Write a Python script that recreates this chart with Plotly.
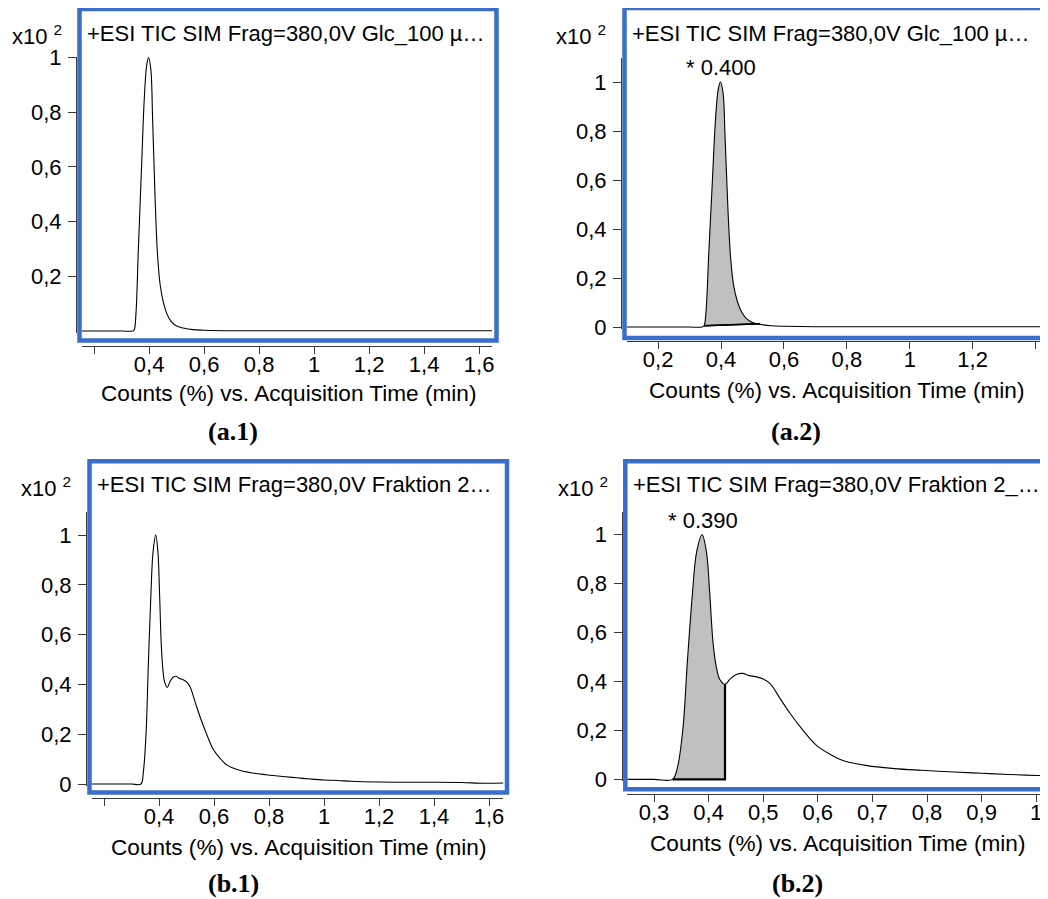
import plotly.graph_objects as go

W, H = 1048, 899

# ---------------- data ----------------
glc_time = [0.10, 0.20, 0.30, 0.340, 0.346, 0.352, 0.361, 0.373, 0.382, 0.391,
            0.398, 0.406, 0.413, 0.422, 0.430, 0.440, 0.453, 0.466, 0.480,
            0.500, 0.524, 0.560, 0.600, 0.700, 0.900, 1.200, 1.500, 1.660]
glc_counts = [0.0, 0.0, 0.0, 0.0, 0.005, 0.06, 0.30, 0.61, 0.84, 0.97,
              1.0, 0.96, 0.77, 0.48, 0.29, 0.17, 0.10, 0.06, 0.035,
              0.018, 0.011, 0.005, 0.003, 0.001, 0.001, 0.001, 0.001, 0.001]

frak_time = [0.15, 0.25, 0.30, 0.334, 0.343, 0.353, 0.361, 0.370, 0.378, 0.388,
             0.396, 0.402, 0.408, 0.414, 0.420, 0.430, 0.440, 0.452, 0.462,
             0.474, 0.486, 0.500, 0.513, 0.531, 0.549, 0.573, 0.597, 0.622,
             0.646, 0.690, 0.740, 0.790, 0.850, 0.900, 0.950, 1.000, 1.050,
             1.100, 1.200, 1.300, 1.400, 1.500, 1.580, 1.655]
frak_counts = [0.0, 0.0, 0.0, 0.0, 0.05, 0.21, 0.48, 0.75, 0.93, 1.0,
               0.93, 0.76, 0.56, 0.46, 0.41, 0.388, 0.412, 0.43, 0.433,
               0.424, 0.42, 0.41, 0.39, 0.33, 0.27, 0.20, 0.14, 0.103,
               0.077, 0.056, 0.044, 0.037, 0.030, 0.025, 0.020, 0.016, 0.014,
               0.011, 0.008, 0.007, 0.007, 0.006, 0.003, 0.004]

# integration windows
glc_peak_start, glc_peak_end = 0.346, 0.524
glc_base_start, glc_base_end = 0.005, 0.013
frak_peak_start, frak_peak_end = 0.334, 0.430

glc_title = "+ESI TIC SIM Frag=380,0V Glc_100 µ…"
frak_title_1 = "+ESI TIC SIM Frag=380,0V Fraktion 2…"
frak_title_2 = "+ESI TIC SIM Frag=380,0V Fraktion 2_…"
axis_title = "Counts (%) vs. Acquisition Time (min)"
peak_labels = ["* 0.400", "* 0.390"]
panel_labels = ["(a.1)", "(a.2)", "(b.1)", "(b.2)"]

x_ticks_wide = [0.4, 0.6, 0.8, 1.0, 1.2, 1.4, 1.6]
x_text_wide = ["0,4", "0,6", "0,8", "1", "1,2", "1,4", "1,6"]
x_minor_wide = [0.2]
x_ticks_a2 = [0.2, 0.4, 0.6, 0.8, 1.0, 1.2]
x_text_a2 = ["0,2", "0,4", "0,6", "0,8", "1", "1,2"]
x_minor_a2 = [1.4]
x_ticks_b2 = [0.3, 0.4, 0.5, 0.6, 0.7, 0.8, 0.9, 1.0]
x_text_b2 = ["0,3", "0,4", "0,5", "0,6", "0,7", "0,8", "0,9", "1"]
y_ticks_a1 = [0.2, 0.4, 0.6, 0.8, 1.0]
y_text_a1 = ["0,2", "0,4", "0,6", "0,8", "1"]
y_ticks = [0, 0.2, 0.4, 0.6, 0.8, 1.0]
y_text = ["0", "0,2", "0,4", "0,6", "0,8", "1"]

# ---------------- helpers ----------------
OFF = 8  # page body margin

def px(x):
    return (x - OFF) / W

def py(y):
    return 1 - (y - OFF) / H

FONT = "Liberation Sans, Arial, sans-serif"
AX_COLOR = "#3a3a3a"
BLUE = "#3b6dcb"

fig = go.Figure()

panels = [
    dict(xd=(82, 492), xr=(0.156, 1.647), xline=346, yd=(333, 57), yr=(-0.0073, 1.002), yline=76,
         xt=(x_ticks_wide, x_text_wide), xm=x_minor_wide, yt=(y_ticks_a1, y_text_a1),
         box=(79.5, 9, 496.5, 340.5)),
    dict(xd=(627, 1045), xr=(0.101, 1.43), xline=341, yd=(329, 58), yr=(-0.008, 1.098), yline=621,
         xt=(x_ticks_a2, x_text_a2), xm=x_minor_a2, yt=(y_ticks, y_text),
         box=(624.5, 8, 1046.5, 338)),
    dict(xd=(91.7, 503.3), xr=(0.155, 1.652), xline=797.5, yd=(786, 511.7), yr=(-0.008, 1.094), yline=86,
         xt=(x_ticks_wide, x_text_wide), xm=x_minor_wide, yt=(y_ticks, y_text),
         box=(89.5, 461.3, 507, 792.5)),
    dict(xd=(627.3, 1046), xr=(0.251, 1.018), xline=793.5, yd=(781.3, 511.7), yr=(-0.008, 1.094), yline=621.5,
         xt=(x_ticks_b2, x_text_b2), xm=None, yt=(y_ticks, y_text),
         box=(625.3, 461.3, 1046.5, 789.3)),
]

layout = dict(
    width=W, height=H,
    margin=dict(l=0, r=0, t=0, b=0, pad=0, autoexpand=False),
    paper_bgcolor="white", plot_bgcolor="rgba(0,0,0,0)",
    showlegend=False,
    font=dict(family=FONT, size=22, color="black"),
    shapes=[], annotations=[],
)

for i, p in enumerate(panels):
    n = "" if i == 0 else str(i + 1)
    xa = dict(
        domain=[px(p["xd"][0]), px(p["xd"][1])], range=list(p["xr"]),
        anchor="free", position=py(p["xline"]), automargin=False,
        showline=True, linecolor=AX_COLOR, linewidth=1,
        ticks="outside", ticklen=7, tickcolor=AX_COLOR, tickwidth=1,
        tickmode="array", tickvals=p["xt"][0], ticktext=p["xt"][1],
        ticklabelstandoff=-8,
        tickfont=dict(family=FONT, size=22, color="black"),
        showgrid=False, zeroline=False, fixedrange=True,
    )
    if p["xm"]:
        xa["minor"] = dict(tickmode="array", tickvals=p["xm"], ticks="outside", ticklen=7,
                           tickcolor=AX_COLOR, tickwidth=1, showgrid=False)
    layout["xaxis" + n] = xa
    layout["yaxis" + n] = dict(
        domain=[py(p["yd"][0]), py(p["yd"][1])], range=list(p["yr"]),
        anchor="free", position=px(p["yline"]), automargin=False,
        showline=True, linecolor=AX_COLOR, linewidth=1,
        ticks="outside", ticklen=8, tickcolor=AX_COLOR, tickwidth=1,
        tickmode="array", tickvals=p["yt"][0], ticktext=p["yt"][1],
        ticklabelstandoff=2,
        tickfont=dict(family=FONT, size=22, color="black"),
        showgrid=False, zeroline=False, fixedrange=True,
    )
    bx0, by0, bx1, by1 = p["box"]
    layout["shapes"].append(dict(
        type="rect", xref="paper", yref="paper",
        x0=px(bx0), x1=px(bx1), y0=py(by1), y1=py(by0),
        line=dict(color=BLUE, width=4.5), fillcolor="rgba(0,0,0,0)", layer="above"))

# ---------------- traces ----------------
def sub(ts, vs, a, b):
    xs, ys = [], []
    for t, v in zip(ts, vs):
        if a - 1e-9 <= t <= b + 1e-9:
            xs.append(t)
            ys.append(v)
    return xs, ys

LINE = dict(color="black", width=1.1, shape="spline")

# a.1
fig.add_trace(go.Scatter(x=glc_time, y=glc_counts, mode="lines", line=LINE,
                         xaxis="x", yaxis="y", hoverinfo="skip"))
# a.2 baseline + fill
fig.add_trace(go.Scatter(x=[glc_peak_start, glc_peak_end], y=[glc_base_start, glc_base_end], mode="lines",
                         line=dict(color="black", width=1.5), xaxis="x2", yaxis="y2", hoverinfo="skip"))
gx, gy = sub(glc_time, glc_counts, glc_peak_start, glc_peak_end)
fig.add_trace(go.Scatter(x=gx, y=gy, mode="lines", line=dict(color="black", width=0, shape="spline"),
                         fill="tonexty", fillcolor="#c0c0c0", xaxis="x2", yaxis="y2", hoverinfo="skip"))
fig.add_trace(go.Scatter(x=[glc_peak_start, glc_peak_end], y=[glc_base_start, glc_base_end], mode="lines",
                         line=dict(color="black", width=1.5), xaxis="x2", yaxis="y2", hoverinfo="skip"))
fig.add_trace(go.Scatter(x=glc_time, y=glc_counts, mode="lines", line=LINE,
                         xaxis="x2", yaxis="y2", hoverinfo="skip"))
# b.1
fig.add_trace(go.Scatter(x=frak_time, y=frak_counts, mode="lines", line=LINE,
                         xaxis="x3", yaxis="y3", hoverinfo="skip"))
# b.2 fill
fx, fy = sub(frak_time, frak_counts, frak_peak_start, frak_peak_end)
fig.add_trace(go.Scatter(x=fx, y=fy, mode="lines", line=dict(color="black", width=0, shape="spline"),
                         fill="tozeroy", fillcolor="#c0c0c0", xaxis="x4", yaxis="y4", hoverinfo="skip"))
fig.add_trace(go.Scatter(x=[frak_peak_start, frak_peak_end, frak_peak_end],
                         y=[0, 0, fy[-1]], mode="lines",
                         line=dict(color="black", width=2.2), xaxis="x4", yaxis="y4", hoverinfo="skip"))
fig.add_trace(go.Scatter(x=frak_time, y=frak_counts, mode="lines", line=LINE,
                         xaxis="x4", yaxis="y4", hoverinfo="skip"))

# ---------------- annotations ----------------
ann = layout["annotations"]
def text(x, y, s, size=22, xanchor="left", yanchor="middle", family=FONT):
    ann.append(dict(x=px(x), y=py(y), xref="paper", yref="paper", text=s, showarrow=False,
                    xanchor=xanchor, yanchor=yanchor, font=dict(family=family, size=size, color="black")))

# box titles
text(85, 33, glc_title)
text(630, 33, glc_title)
text(95, 485, frak_title_1)
text(631, 485, frak_title_2)
# exponent labels
for (x, y) in [(10, 35), (554, 35), (19, 487), (556, 487)]:
    text(x, y, "x10 <sup>2</sup>")
# axis titles
for (x, y) in [(288, 394), (836.5, 390), (298, 847), (837.5, 843)]:
    text(x, y, axis_title, size=22.6, xanchor="center")
# panel labels
for (x, y), s in zip([(233, 431), (796, 431), (233, 883), (797, 883)], panel_labels):
    text(x, y, "<b>" + s + "</b>", size=26, xanchor="center", family="Liberation Serif, Times New Roman, serif")
# peak labels
ann.append(dict(x=0.400, y=1.0, xref="x2", yref="y2", text=peak_labels[0], showarrow=False,
                xanchor="center", yanchor="bottom", font=dict(family=FONT, size=22, color="black")))
ann.append(dict(x=0.390, y=1.0, xref="x4", yref="y4", text=peak_labels[1], showarrow=False,
                xanchor="center", yanchor="bottom", font=dict(family=FONT, size=22, color="black")))

fig.update_layout(**layout)
fig.write_html("out.html")
